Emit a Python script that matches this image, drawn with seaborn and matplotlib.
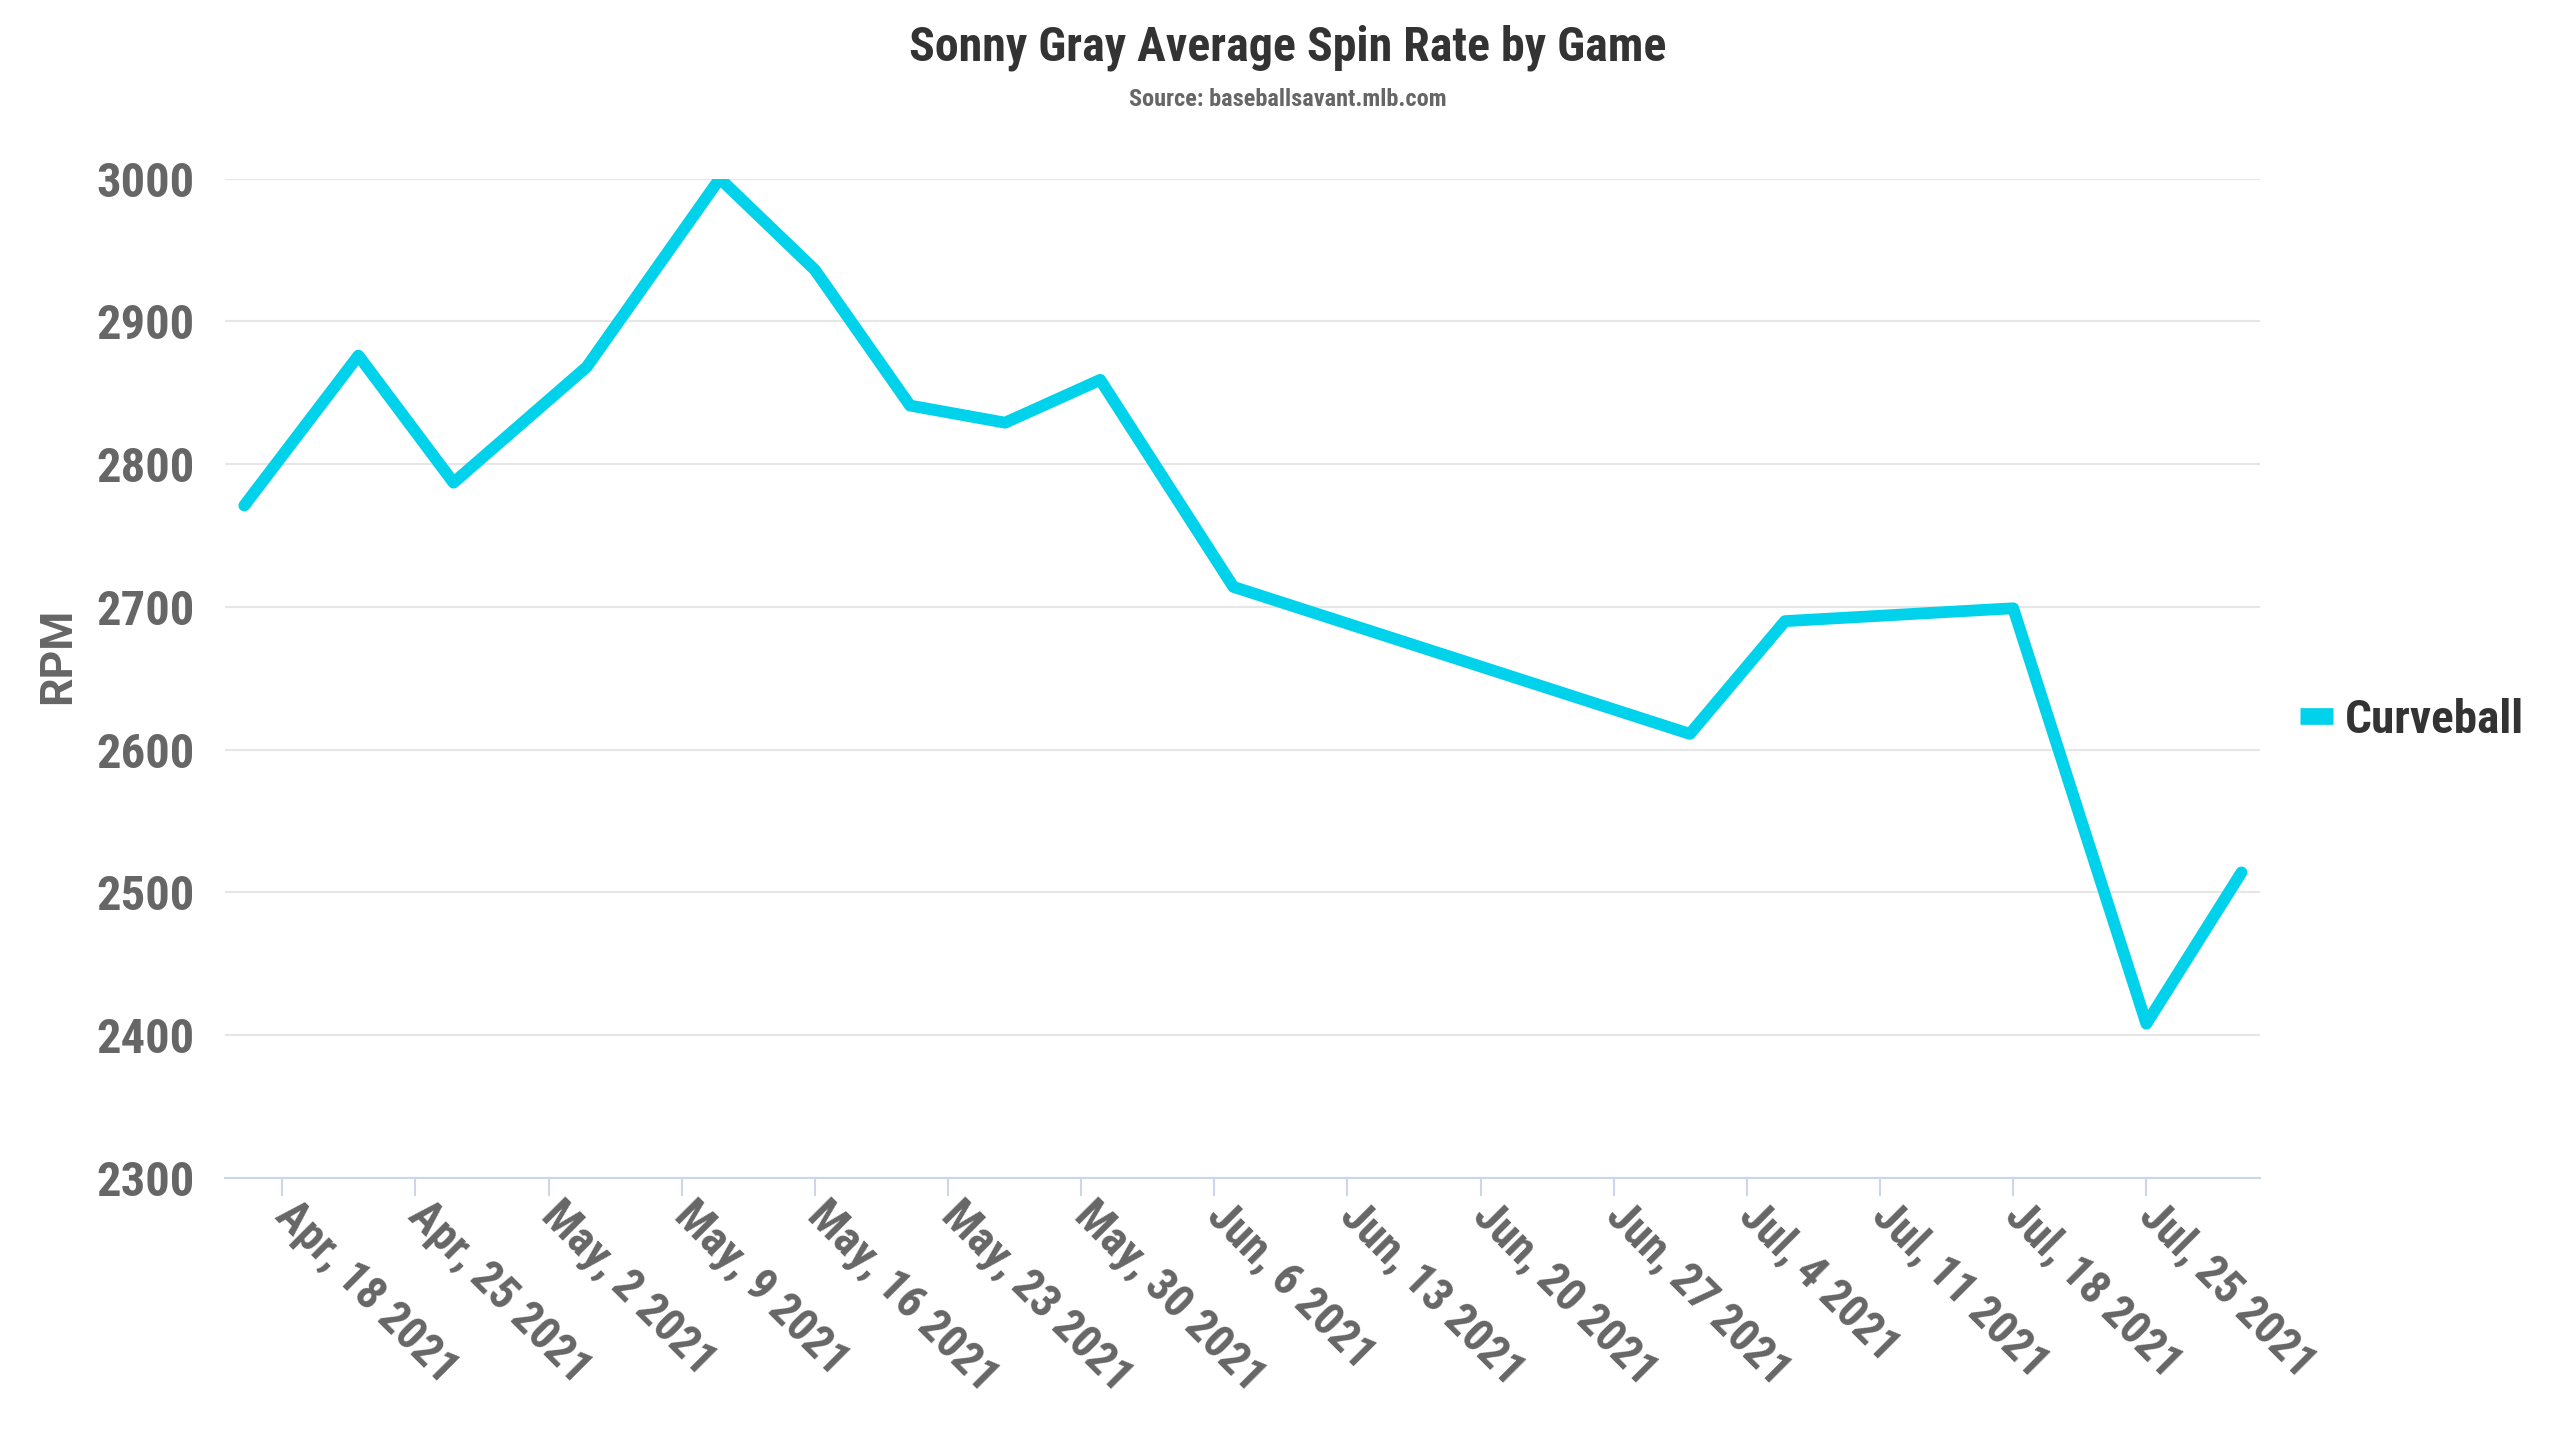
import pandas as pd
import matplotlib.pyplot as plt
import matplotlib.dates as mdates
from matplotlib import font_manager
from matplotlib.ticker import FuncFormatter
import seaborn as sns

# Curveball average spin rate per start
game_dates = ["2021-04-16", "2021-04-22", "2021-04-27", "2021-05-04", "2021-05-11",
              "2021-05-16", "2021-05-21", "2021-05-26", "2021-05-31", "2021-06-07",
              "2021-07-01", "2021-07-06", "2021-07-18", "2021-07-25", "2021-07-30"]
spin_rpm = [2771, 2876, 2787, 2868, 3000, 2936, 2841, 2829, 2859, 2714,
            2611, 2690, 2699, 2408, 2514]
pitch_label = "Curveball"

data = pd.DataFrame({"date": pd.to_datetime(game_dates), "rpm": spin_rpm, "pitch": pitch_label})

sns.set_style("white")
installed = {f.name for f in font_manager.fontManager.ttflist}
condensed = "Roboto Condensed" in installed
plt.rcParams['font.family'] = (['Roboto Condensed'] if condensed else []) + ['Roboto', 'DejaVu Sans']
# regular Roboto is wider than the condensed face, so shrink a little
k = 1.0 if condensed else 0.94

fig = plt.figure(figsize=(25.6, 14.4), dpi=100)
ax = fig.add_axes([0.088, 0.182, 0.795, 0.694])

sns.lineplot(data=data, x="date", y="rpm", hue="pitch", palette=["#00d2eb"],
             linewidth=8.5, ax=ax, legend=False, solid_joinstyle="round")

ax.set_ylim(2300, 3000)
ax.set_yticks(range(2300, 3001, 100))
ax.set_xlim(data["date"].min() - pd.Timedelta(days=1), data["date"].max() + pd.Timedelta(days=1))
ax.xaxis.set_major_locator(mdates.WeekdayLocator(byweekday=mdates.SU))
ax.xaxis.set_major_formatter(FuncFormatter(
    lambda v, pos: (lambda d: f"{d:%b}, {d.day} {d.year}")(mdates.num2date(v))))

ax.grid(axis="y", color="#e6e6e6", linewidth=1.5)
ax.set_axisbelow(True)
for side in ["top", "right", "left"]:
    ax.spines[side].set_visible(False)
ax.spines["bottom"].set_color("#ccd6eb")
ax.spines["bottom"].set_linewidth(1.5)

ax.tick_params(axis="y", length=0, pad=22, labelsize=35 * k, labelcolor="#666666")
ax.tick_params(axis="x", length=13, width=1.5, color="#ccd6eb", pad=9,
               labelsize=33 * k, labelcolor="#666666", bottom=True)
for lbl in ax.get_yticklabels():
    lbl.set_fontweight("bold")
for lbl in ax.get_xticklabels():
    lbl.set_fontweight("bold")
    lbl.set_rotation(-45)
    lbl.set_ha("left")
    lbl.set_va("center")
    lbl.set_rotation_mode("anchor")

ax.set_xlabel("")
ax.set_ylabel("RPM", fontsize=32, fontweight="bold", color="#666666",
              family=["Roboto", "DejaVu Sans"])
ax.yaxis.set_label_coords(-0.0717, 0.522)

fig.text(0.503, 0.967, "Sonny Gray Average Spin Rate by Game", ha="center", va="center",
         fontsize=34.5 * k, fontweight="bold", color="#333333")
fig.text(0.503, 0.931, "Source: baseballsavant.mlb.com", ha="center", va="center",
         fontsize=17.5 * k, fontweight="bold", color="#666666")

handle = plt.Line2D([], [], color="#00d2eb", linewidth=12, solid_capstyle="butt")
leg = fig.legend([handle], [pitch_label], loc="center left", bbox_to_anchor=(0.882, 0.5),
                 frameon=False, handlelength=0.7, handletextpad=0.25,
                 prop={"size": 34 * k, "weight": "bold"})
for t in leg.get_texts():
    t.set_color("#333333")

fig.savefig("out.png", dpi=100)
